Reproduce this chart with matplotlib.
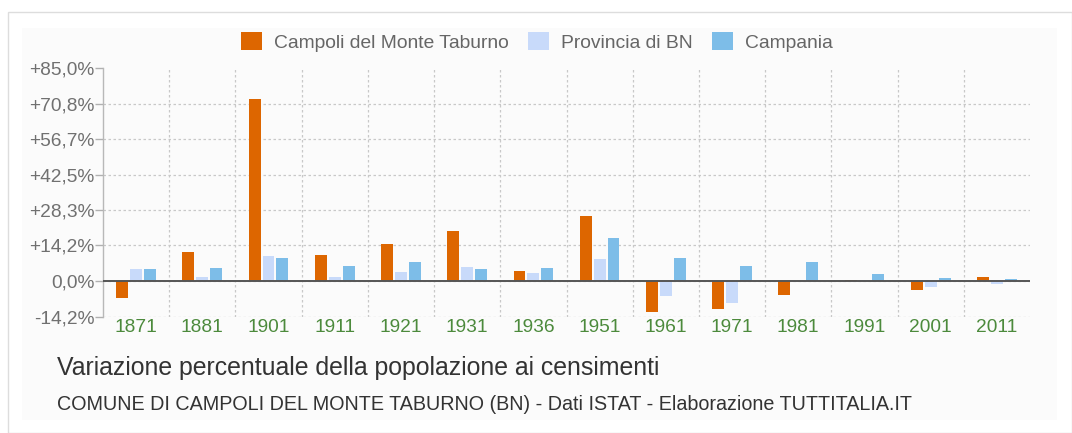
import matplotlib
matplotlib.use("Agg")
import matplotlib.pyplot as plt
from matplotlib.patches import Rectangle
import numpy as np

plt.rcParams['font.family'] = ['Liberation Sans', 'DejaVu Sans']

years = ["1871", "1881", "1901", "1911", "1921", "1931", "1936", "1951",
         "1961", "1971", "1981", "1991", "2001", "2011"]
campoli = [-6.9, 11.7, 72.6, 10.3, 14.6, 20.0, 4.0, 25.9, -12.2, -11.0, -5.5, 0.6, -3.6, 1.7]
provincia = [4.8, 1.5, 10.0, 1.7, 3.6, 5.5, 3.2, 8.9, -6.0, -8.8, -0.1, 0.3, -2.4, -1.0]
campania = [4.6, 5.3, 9.3, 6.1, 7.5, 4.7, 5.1, 17.3, 9.2, 5.9, 7.6, 2.7, 1.1, 1.0]
series_names = ["Campoli del Monte Taburno", "Provincia di BN", "Campania"]
yticks = [-14.2, 0.0, 14.2, 28.3, 42.5, 56.7, 70.8, 85.0]
ytick_labels = ["-14,2%", "0,0%", "+14,2%", "+28,3%", "+42,5%", "+56,7%", "+70,8%", "+85,0%"]

colors = ["#dd6600", "#c8dafa", "#7dbde8"]

W, H = 1072, 433
fig = plt.figure(figsize=(W / 100, H / 100), dpi=100)
fig.patch.set_facecolor("white")

# outer frame and inner background
fig.add_artist(Rectangle((8 / W, 0), (W - 8) / W, (H - 12) / H, transform=fig.transFigure,
                         facecolor="white", edgecolor="#dddddd", lw=1, zorder=0))
fig.add_artist(Rectangle((22 / W, 1 - 420 / H), (1057 - 22) / W, (420 - 28) / H,
                         transform=fig.transFigure, facecolor="#fbfbfb", edgecolor="none", zorder=0))

left, right, top, bottom = 103, 1030, 68, 316.6
ax = fig.add_axes([left / W, 1 - bottom / H, (right - left) / W, (bottom - top) / H])
ax.patch.set_alpha(0)

x = np.arange(len(years)) + 0.5
w = 0.18
off = 0.21
for i, (vals, c, name) in enumerate(zip([campoli, provincia, campania], colors, series_names)):
    ax.bar(x + (i - 1) * off, vals, width=w, color=c, label=name, zorder=3)

ax.set_xlim(0, len(years))
ax.set_ylim(-14.2, 85.0)
ax.set_yticks(yticks)
ax.set_yticklabels(ytick_labels)
ax.set_xticks(x)
ax.set_xticklabels(years)
ax.tick_params(axis="y", length=6, color="#b0b0b0", width=1, labelsize=13.8,
               labelcolor="#707070", pad=0)
ax.tick_params(axis="x", length=0, labelsize=13.8, labelcolor="#4c8a3c", pad=2)

for name, s in ax.spines.items():
    s.set_visible(name == "left")
ax.spines["left"].set_color("#b8b8b8")
ax.spines["left"].set_linewidth(1)

for yv in yticks[:-1]:
    ax.axhline(yv, color="#c8c8c8", lw=0.9, ls=(0, (2, 2)), zorder=1)
for k in range(1, len(years)):
    ax.axvline(k, color="#c8c8c8", lw=0.9, ls=(0, (2, 2)), zorder=1)
ax.axhline(0, color="#555555", lw=1.4, zorder=4)

leg = fig.legend(loc="center left", bbox_to_anchor=(241 / W, 1 - 42 / H), ncol=3, frameon=False,
                 fontsize=13.9, handlelength=1.08, handleheight=1.03, handletextpad=0.62,
                 columnspacing=1.0, borderpad=0, borderaxespad=0, labelcolor="#666666")

fig.text(57 / W, 1 - 368 / H, "Variazione percentuale della popolazione ai censimenti",
         fontsize=17.9, color="#333333", va="center", ha="left")
fig.text(57 / W, 1 - 405 / H,
         "COMUNE DI CAMPOLI DEL MONTE TABURNO (BN) - Dati ISTAT - Elaborazione TUTTITALIA.IT",
         fontsize=14.2, color="#333333", va="center", ha="left")

fig.savefig("out.png", dpi=100)
